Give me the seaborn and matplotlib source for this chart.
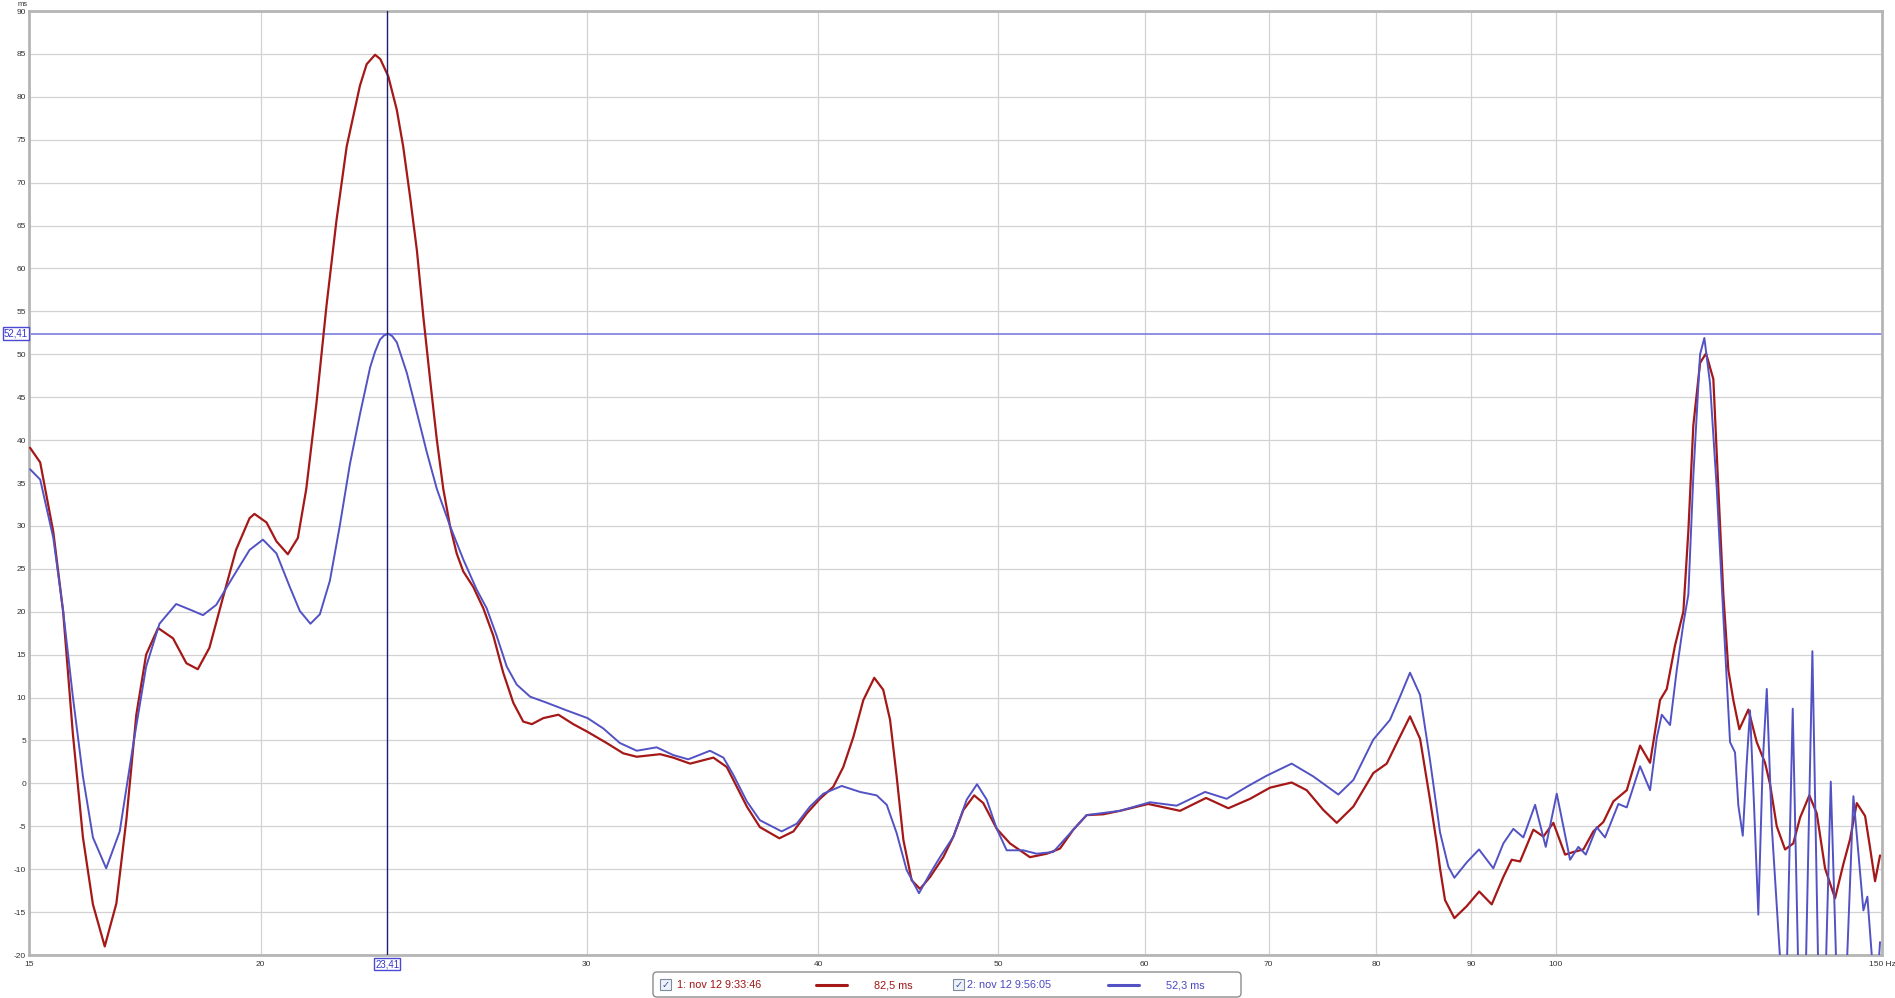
import pandas as pd
import seaborn as sns
import matplotlib.pyplot as plt
import matplotlib.transforms as mtransforms
from matplotlib.patches import FancyBboxPatch, Rectangle
from matplotlib.ticker import NullLocator

# measurement 1 (red), frequency in Hz / group delay in ms
red_freq = [15.02, 15.21, 15.46, 15.65, 15.84, 16.04, 16.24, 16.48, 16.72, 16.93,
            17.14, 17.35, 17.61, 17.94, 18.24, 18.50, 18.77, 19.08, 19.40, 19.73,
            19.85, 20.15, 20.40, 20.69, 20.95, 21.17, 21.44, 21.71, 21.98, 22.26,
            22.63, 22.82, 23.06, 23.21, 23.44, 23.69, 23.88, 24.08, 24.29, 24.49,
            24.69, 24.90, 25.10, 25.31, 25.52, 25.73, 26.05, 26.38, 26.71, 27.04,
            27.38, 27.72, 28.02, 28.42, 28.96, 29.50, 30.03, 30.75, 31.39, 31.92,
            32.86, 33.40, 34.11, 35.11, 35.70, 35.99, 36.60, 37.20, 38.11, 38.78,
            39.43, 40.08, 40.75, 41.26, 41.78, 42.30, 42.88, 43.36, 43.73, 44.09,
            44.46, 44.92, 45.39, 45.96, 46.72, 47.31, 47.90, 48.55, 49.10, 49.93,
            50.76, 52.03, 53.13, 54.01, 54.91, 55.83, 57.00, 58.19, 60.27, 62.70,
            64.76, 66.58, 68.40, 70.12, 72.03, 73.39, 74.92, 76.18, 77.77, 79.72,
            81.06, 82.08, 83.44, 84.49, 85.54, 86.26, 86.61, 87.15, 88.17, 89.54,
            90.93, 92.36, 93.70, 94.68, 95.67, 97.26, 98.48, 99.71, 101.17, 102.22,
            103.50, 104.79, 106.10, 107.43, 109.23, 111.05, 112.44, 113.84, 114.80, 115.99,
            117.19, 117.92, 118.65, 119.65, 120.54, 121.64, 122.40, 123.16, 123.93, 124.70,
            125.63, 127.05, 128.38, 129.71, 130.52, 131.61, 132.98, 134.34, 135.48, 137.05,
            138.32, 139.75, 141.50, 142.97, 144.17, 145.37, 146.88, 147.79, 148.71, 149.63]
red_ms = [39.1, 37.4, 29.3, 20.0, 5.8, -6.3, -14.1, -19.0, -14.0, -4.2,
          8.0, 15.0, 18.1, 16.9, 14.0, 13.3, 15.8, 21.5, 27.2, 30.9,
          31.4, 30.4, 28.2, 26.7, 28.6, 34.3, 44.3, 55.7, 65.6, 74.2,
          81.3, 83.8, 84.9, 84.4, 82.4, 78.5, 74.2, 68.5, 62.1, 54.2,
          47.1, 40.0, 34.3, 30.0, 26.8, 24.7, 22.9, 20.4, 17.2, 12.9,
          9.4, 7.2, 6.9, 7.6, 8.0, 6.9, 6.0, 4.7, 3.5, 3.1,
          3.4, 3.0, 2.3, 3.0, 1.9, 0.4, -2.7, -5.1, -6.4, -5.6,
          -3.5, -1.8, -0.4, 1.9, 5.4, 9.7, 12.3, 10.9, 7.4, 0.8,
          -6.6, -11.3, -12.3, -10.9, -8.6, -6.2, -3.1, -1.4, -2.3, -5.3,
          -7.0, -8.6, -8.2, -7.6, -5.4, -3.7, -3.6, -3.2, -2.4, -3.2,
          -1.7, -2.9, -1.8, -0.5, 0.1, -0.8, -3.1, -4.6, -2.7, 1.2,
          2.3, 4.7, 7.8, 5.2, -1.9, -7.0, -9.9, -13.6, -15.7, -14.3,
          -12.6, -14.1, -10.9, -8.9, -9.1, -5.4, -6.2, -4.6, -8.3, -8.0,
          -7.7, -5.6, -4.5, -2.1, -0.8, 4.4, 2.4, 9.7, 11.0, 16.1,
          20.0, 29.4, 41.7, 49.0, 50.1, 47.1, 34.3, 22.0, 13.2, 9.7,
          6.3, 8.6, 4.8, 2.4, -0.1, -5.0, -7.7, -7.0, -4.0, -1.4,
          -3.5, -9.9, -13.4, -9.4, -6.5, -2.3, -3.8, -7.5, -11.4, -8.4]

# measurement 2 (blue)
blue_freq = [15.02, 15.21, 15.46, 15.65, 15.84, 16.04, 16.24, 16.51, 16.79, 17.07,
             17.35, 17.64, 18.01, 18.39, 18.62, 18.93, 19.32, 19.73, 20.06, 20.40,
             20.74, 21.00, 21.28, 21.53, 21.80, 22.07, 22.35, 22.63, 22.92, 23.06,
             23.20, 23.32, 23.44, 23.56, 23.69, 23.99, 24.29, 24.59, 24.90, 25.31,
             25.73, 26.16, 26.49, 26.82, 27.16, 27.50, 27.96, 28.54, 29.26, 30.03,
             30.62, 31.26, 31.92, 32.72, 33.40, 34.03, 34.96, 35.55, 35.99, 36.60,
             37.20, 38.22, 38.94, 39.59, 40.25, 41.18, 42.13, 43.01, 43.55, 44.09,
             44.64, 45.33, 45.96, 46.53, 47.31, 48.10, 48.72, 49.31, 49.93, 50.55,
             51.60, 52.47, 53.56, 54.91, 55.83, 58.19, 60.40, 62.44, 64.68, 66.44,
             68.12, 69.83, 72.03, 74.00, 76.33, 77.77, 79.72, 81.39, 82.41, 83.44,
             84.49, 85.54, 86.61, 87.51, 88.17, 89.54, 90.91, 92.54, 93.70, 94.87,
             96.06, 97.47, 98.77, 100.13, 101.80, 102.86, 103.81, 105.23, 106.32, 108.10,
             109.23, 111.05, 112.44, 113.38, 114.09, 115.27, 116.23, 117.19, 117.92, 118.65,
             119.65, 120.29, 121.14, 122.16, 123.16, 124.19, 124.96, 125.48, 126.17, 126.79,
             127.31, 127.95, 128.63, 129.34, 129.99, 130.80, 132.15, 132.65, 133.31, 134.25,
             135.14, 135.82, 136.49, 137.57, 138.54, 139.23, 139.93, 140.75, 141.68, 142.56,
             143.63, 144.76, 146.57, 147.30, 148.16, 148.89, 149.63]
blue_ms = [36.6, 35.4, 28.6, 20.1, 10.1, 0.8, -6.3, -9.9, -5.6, 4.4,
           13.6, 18.6, 20.9, 20.1, 19.6, 20.8, 24.0, 27.2, 28.4, 26.8,
           22.9, 20.1, 18.6, 19.7, 23.6, 30.0, 37.2, 43.0, 48.5, 50.3,
           51.7, 52.2, 52.4, 52.1, 51.4, 47.8, 43.2, 38.6, 34.3, 30.0,
           26.1, 22.6, 20.4, 17.2, 13.6, 11.5, 10.1, 9.4, 8.5, 7.6,
           6.4, 4.7, 3.8, 4.2, 3.3, 2.8, 3.8, 3.0, 1.0, -2.1,
           -4.3, -5.6, -4.7, -2.7, -1.2, -0.3, -1.0, -1.4, -2.5, -5.8,
           -10.1, -12.8, -10.5, -8.6, -6.2, -1.9, -0.1, -1.9, -5.3, -7.8,
           -7.8, -8.2, -8.0, -5.4, -3.7, -3.2, -2.2, -2.6, -1.0, -1.8,
           -0.4, 0.9, 2.3, 0.8, -1.3, 0.4, 5.1, 7.4, 10.1, 12.9,
           10.3, 2.7, -5.7, -9.7, -11.0, -9.2, -7.7, -9.9, -7.0, -5.3,
           -6.3, -2.5, -7.4, -1.2, -8.9, -7.4, -8.3, -5.1, -6.3, -2.4,
           -2.8, 2.0, -0.8, 5.3, 8.0, 6.8, 13.2, 18.6, 22.0, 35.8,
           50.0, 51.9, 46.6, 34.3, 19.5, 4.8, 3.6, -2.6, -6.1, 2.4,
           8.5, -2.6, -15.3, 2.4, 11.0, -5.0, -20.5, -26.0, -20.5, 8.7,
           -20.5, -26.0, -20.5, 15.4, -20.5, -26.0, -20.5, 0.2, -20.5, -26.0,
           -20.5, -1.5, -14.8, -13.2, -20.5, -26.0, -18.5]

x_ticks = [15, 20, 30, 40, 50, 60, 70, 80, 90, 100, 150]
x_labels = ["15", "20", "30", "40", "50", "60", "70", "80", "90", "100", "150 Hz"]
y_ticks = list(range(-20, 95, 5))

cursor_freq = 23.41
cursor_ms = 52.41
legend_names = ["1: nov 12 9:33:46", "2: nov 12 9:56:05"]
legend_values = ["82,5 ms", "52,3 ms"]

RED = "#a51818"
BLUE = "#5252c4"
W, H = 1895, 998

sns.set_style("white")
plt.rcParams["font.family"] = ["Liberation Sans", "DejaVu Sans"]

fig = plt.figure(figsize=(W / 100, H / 100), dpi=100)
ax = fig.add_axes([29 / W, 1 - 955 / H, 1853 / W, 944 / H])

df_red = pd.DataFrame({"freq": red_freq, "ms": red_ms})
df_blue = pd.DataFrame({"freq": blue_freq, "ms": blue_ms})

ax.axhline(cursor_ms, color="#7c7ce2", lw=1.2, zorder=2)
sns.lineplot(data=df_red, x="freq", y="ms", color=RED, lw=1.6, ax=ax,
             estimator=None, sort=False, zorder=3)
sns.lineplot(data=df_blue, x="freq", y="ms", color=BLUE, lw=1.4, ax=ax,
             estimator=None, sort=False, zorder=4)
ax.axvline(cursor_freq, color="#1e1e70", lw=1.0, zorder=5)

ax.set_xscale("log")
ax.set_xlim(15, 150)
ax.set_ylim(-20, 90)
ax.set_xticks(x_ticks)
ax.set_xticklabels(x_labels)
ax.xaxis.set_minor_locator(NullLocator())
ax.set_yticks(y_ticks)
ax.set_yticklabels([str(v) for v in y_ticks])
ax.set_xlabel("")
ax.set_ylabel("")
ax.grid(True, color="#d2d2d2", lw=0.9)
ax.tick_params(length=0, labelsize=6, colors="#333333")
ax.tick_params(axis="y", pad=2)
ax.tick_params(axis="x", pad=4)
for s in ax.spines.values():
    s.set_color("#b5b5b5")
    s.set_linewidth(2)

# cursor value boxes
box = dict(boxstyle="square,pad=0.12", fc="white", ec="#4a4ad6", lw=1)
tx = mtransforms.blended_transform_factory(ax.transData, ax.transAxes)
ax.text(cursor_freq, -0.0045, "23,41", transform=tx, ha="center", va="top",
        fontsize=7, color="#3434c8", bbox=box, clip_on=False)
ty = mtransforms.blended_transform_factory(ax.transAxes, ax.transData)
ax.text(-0.0006, cursor_ms, "52,41", transform=ty, ha="right", va="center",
        fontsize=7, color="#3434c8", bbox=box, clip_on=False)

fig.text(23 / W, 1 - 4 / H, "ms", ha="center", va="center", fontsize=5.5, color="#333333")

# legend strip under the plot, drawn in pixel space
lax = fig.add_axes([0, 0, 1, 1], zorder=10)
lax.set_xlim(0, W)
lax.set_ylim(H, 0)
lax.axis("off")
lax.patch.set_alpha(0)
lax.add_patch(FancyBboxPatch((653, 972), 588, 25, boxstyle="round,pad=0,rounding_size=4",
                             fc="white", ec="#8c8c8c", lw=1))
cy = 985
items = [(660, 677, 816, 874, RED, "#a01414"), (953, 967, 1108, 1166, BLUE, "#4848c0")]
for (cb, tx0, lx0, vx, lc, tc), name, val in zip(items, legend_names, legend_values):
    lax.add_patch(Rectangle((cb, cy - 6), 11, 11, fc="#eef2f8", ec="#7d8ba0", lw=0.8))
    lax.text(cb + 5.5, cy, "\u2713", ha="center", va="center", fontsize=7,
             color="#3050b0", family="DejaVu Sans")
    lax.text(tx0, cy, name, ha="left", va="center", fontsize=7.8, color=tc)
    lax.plot([lx0, lx0 + 31], [cy, cy], color=lc, lw=2.2)
    lax.text(vx, cy, val, ha="left", va="center", fontsize=7.8, color=tc)

fig.savefig("out.png", dpi=100, facecolor="white")
